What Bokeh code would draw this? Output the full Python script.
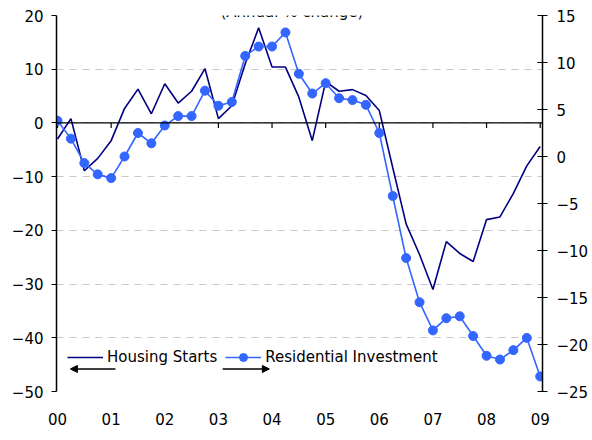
from bokeh.plotting import figure
from bokeh.models import (Range1d, LinearAxis, FixedTicker, Span, Legend, LegendItem,
                          Arrow, NormalHead, Label)
from bokeh.embed import file_html
from bokeh.resources import INLINE

# ---------------- data ----------------
years = [2000, 2001, 2002, 2003, 2004, 2005, 2006, 2007, 2008, 2009]
year_labels = ["00", "01", "02", "03", "04", "05", "06", "07", "08", "09"]
# quarterly observations 2000Q1 .. 2009Q1
quarters = [y + q / 4 for y in years for q in range(4)][:37]

housing_starts = [-3.0, 0.8, -8.9, -6.6, -3.3, 2.7, 6.3, 1.7, 7.3, 3.7, 5.9, 10.1,
                  0.8, 3.2, 11.0, 17.7, 10.4, 10.4, 4.8, -3.3, 7.7, 5.9, 6.2, 5.1,
                  2.3, -8.3, -18.8, -24.5, -31.0, -22.1, -24.3, -25.8, -18.0, -17.5,
                  -13.1, -8.0, -4.4]

residential_investment = [3.8, 1.9, -0.7, -1.9, -2.3, 0.0, 2.5, 1.4, 3.3, 4.3, 4.3, 7.0,
                          5.4, 5.8, 10.7, 11.7, 11.7, 13.2, 8.8, 6.7, 7.8, 6.2, 6.0, 5.5,
                          2.5, -4.2, -10.8, -15.5, -18.5, -17.2, -17.0, -19.1, -21.2, -21.6,
                          -20.6, -19.3, -23.4]

left_ticks = [-50, -40, -30, -20, -10, 0, 10, 20]
right_ticks = [-25, -20, -15, -10, -5, 0, 5, 10, 15]

NAVY = "#000080"
BLUE = "#3366FF"
FONT = "DejaVu Sans"

p = figure(width=592, height=440, output_backend="svg", toolbar_location=None,
           x_range=Range1d(1999.981, 2009.043), y_range=Range1d(-50, 20),
           min_border_left=56, min_border_right=50, min_border_top=15, min_border_bottom=49,
           background_fill_color="white", border_fill_color="white")
p.outline_line_color = None
p.extra_y_ranges = {"right": Range1d(-25, 15)}

# left axis
ya = p.yaxis[0]
ya.ticker = FixedTicker(ticks=left_ticks)
ya.axis_line_color = "black"
ya.axis_line_width = 1.5
ya.major_tick_line_color = "black"
ya.major_tick_out = 5
ya.major_tick_in = 0
ya.minor_tick_line_color = None
ya.major_label_standoff = 8
ya.major_label_text_font = FONT
ya.major_label_text_font_size = "15px"
ya.major_label_text_color = "black"

# right axis
ra = LinearAxis(y_range_name="right", ticker=FixedTicker(ticks=right_ticks))
ra.axis_line_color = "black"
ra.axis_line_width = 1.5
ra.major_tick_line_color = "black"
ra.major_tick_out = 5
ra.major_tick_in = 5
ra.minor_tick_line_color = None
ra.major_label_standoff = 9
ra.major_label_text_font = FONT
ra.major_label_text_font_size = "15px"
ra.major_label_text_color = "black"
p.add_layout(ra, "right")

# bottom axis: labels only
xa = p.xaxis[0]
xa.ticker = FixedTicker(ticks=years)
xa.major_label_overrides = {y: lab for y, lab in zip(years, year_labels)}
xa.axis_line_color = None
xa.major_tick_line_color = None
xa.minor_tick_line_color = None
xa.major_tick_out = 0
xa.major_label_standoff = 21
xa.major_label_text_font = FONT
xa.major_label_text_font_size = "15px"
xa.major_label_text_color = "black"

# grid
p.xgrid.visible = False
p.ygrid.ticker = FixedTicker(ticks=left_ticks)
p.ygrid.grid_line_color = "#C8C8C8"
p.ygrid.grid_line_dash = "7 6"
p.ygrid.grid_line_width = 1.2

# zero line with year ticks
p.add_layout(Span(location=0, dimension="width", line_color="black", line_width=1.2))
p.segment(x0=years, y0=[0] * len(years), x1=years, y1=[-0.95] * len(years),
          line_color="black", line_width=1.2)

# series
r_hs = p.line(quarters, housing_starts, line_color=NAVY, line_width=1.6)
r_ri = p.line(quarters, residential_investment, line_color=BLUE, line_width=1.6,
              y_range_name="right")
r_rp = p.scatter(quarters, residential_investment, size=9, fill_color=BLUE,
                 line_color=BLUE, y_range_name="right")

legend = Legend(items=[LegendItem(label="Housing Starts", renderers=[r_hs]),
                       LegendItem(label="Residential Investment", renderers=[r_ri, r_rp])],
                orientation="horizontal", location=(11, 24), padding=0, margin=0,
                spacing=8, glyph_width=36, glyph_height=20, label_standoff=4,
                label_text_font=FONT, label_text_font_size="15px",
                label_text_color="black", border_line_alpha=0, background_fill_alpha=0)
p.add_layout(legend, "center")

# axis-direction arrows under legend samples
p.add_layout(Arrow(end=NormalHead(size=7, fill_color="black", line_color="black"),
                   x_start=2001.08, y_start=-45.8, x_end=2000.24, y_end=-45.8,
                   line_color="black", line_width=1.5))
p.add_layout(Arrow(end=NormalHead(size=7, fill_color="black", line_color="black"),
                   x_start=2003.08, y_start=-45.8, x_end=2003.95, y_end=-45.8,
                   line_color="black", line_width=1.5))

# title (partly cut at top, as in the original) and source
p.add_layout(Label(x=2004.37, y=20.7, text="(Annual % change)", text_align="center",
                   text_baseline="alphabetic", text_font=FONT, text_font_size="15px",
                   text_color="black"))
p.add_layout(Label(x=1999.29, y=-57.4, text="Source: BEA and US Census Bureau",
                   text_align="left", text_baseline="top", text_font=FONT,
                   text_font_size="13px", text_color="black"))

open("out.html", "w").write(file_html(p, INLINE))
